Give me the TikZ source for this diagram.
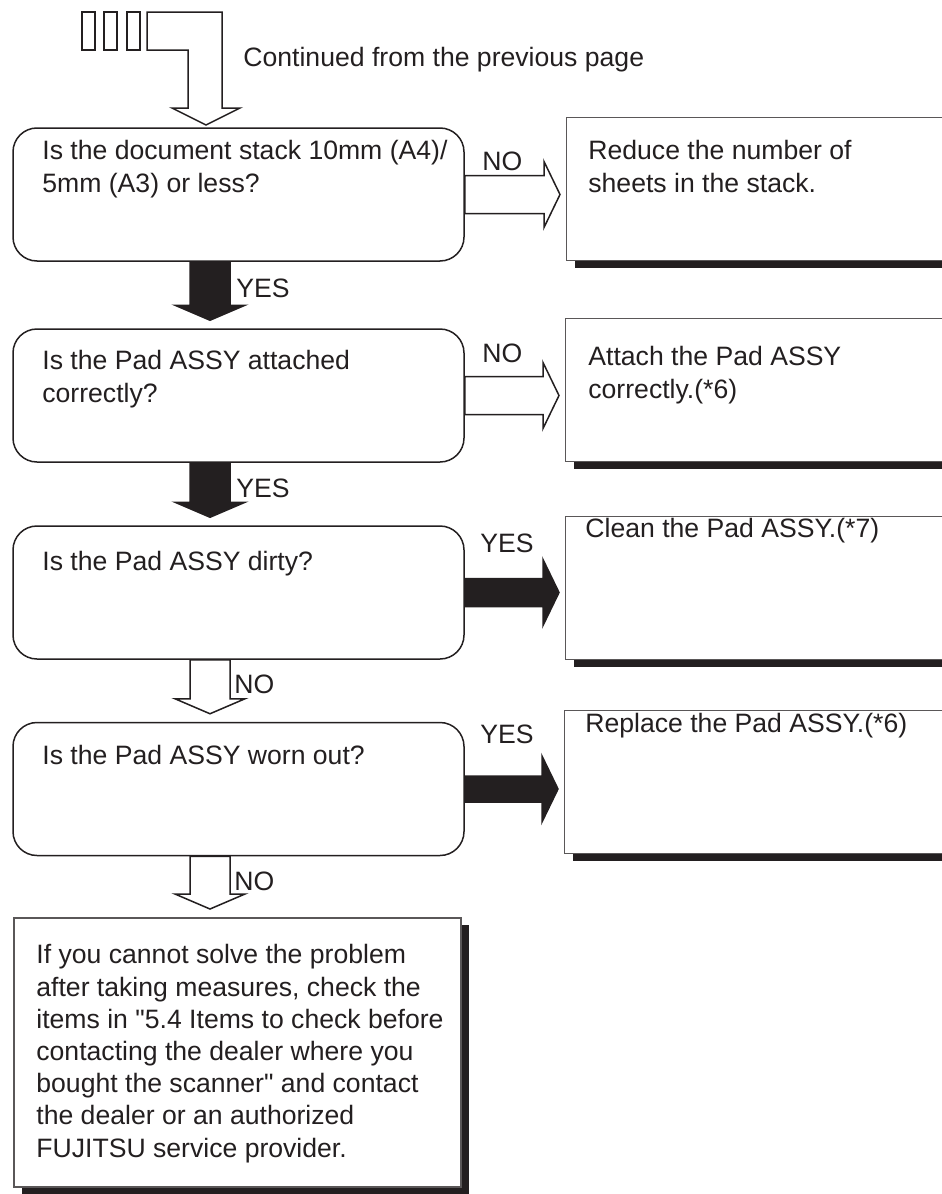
\documentclass[tikz,border=0pt]{standalone}
\usepackage{fontspec}
\setmainfont{Liberation Sans}[Ligatures=TeXOff]
\usetikzlibrary{calc}
\definecolor{ink}{HTML}{231F20}

\newcommand\arrowdown[3]{%
  \draw[#1] ($(#2)+(-20,0)$) -- ($(#2)+(20,0)$) -- ($(#3)+(20,-15)$) -- ($(#3)+(35,-15)$)
    -- (#3) -- ($(#3)+(-35,-15)$) -- ($(#3)+(-20,-15)$) -- cycle;}
\newcommand\arrowright[4]{%
  \draw[#1] ($(#3)+(0,-#2)$) -- ($(#4)+(-16,-#2)$) -- ($(#4)+(-16,-33)$) -- (#4)
    -- ($(#4)+(-16,33)$) -- ($(#4)+(-16,#2)$) -- ($(#3)+(0,#2)$) -- cycle;}

\begin{document}
\begin{tikzpicture}[x=0.5pt,y=-0.5pt,line join=miter,
  ques/.style={draw=ink,line width=0.75pt,rounded corners=12pt,fill=white,
    minimum width=225.5pt,minimum height=66.5pt,inner sep=0pt},
  todo/.style={draw=ink!75,line width=0.5pt,fill=white,anchor=north west,
    minimum width=192pt,minimum height=71.5pt,inner sep=0pt,
    preaction={fill=ink,draw=none,transform canvas={xshift=4pt,yshift=-3.75pt}}},
  txt/.style={anchor=base west,inner sep=0pt,align=left,text=ink,
    font=\fontsize{13.3}{16.1}\selectfont},
  lbl/.style={txt},
  hol/.style={draw=ink,line width=0.75pt,fill=white},
  blk/.style={draw=ink,line width=0.75pt,fill=ink}]
  \useasboundingbox (0,0) rectangle (942,1194);

  % continued marker
  \foreach \x in {82,104,127} {
    \draw[ink,line width=0.75pt] (\x,12) rectangle ++(13,38);
  }
  \draw[hol] (147,12) -- (222,12) -- (222,108) -- (240,108) -- (206,125)
    -- (172,108) -- (188,108) -- (188,50) -- (147,50) -- cycle;
  \node[txt] (cont) at (243,66) {Continued from the previous page};

  % questions (base = last line)
  \node[ques] (q1) at (238.5,194.5) {};
  \node[ques] (q2) at (238.5,395.5) {};
  \node[ques] (q3) at (238.5,592.5) {};
  \node[ques] (q4) at (238.5,789) {};
  \node[draw=ink!75,line width=0.75pt,fill=white,anchor=north west,inner sep=0pt,
    minimum width=223.5pt,minimum height=134.5pt,
    preaction={fill=ink,draw=none,transform canvas={xshift=4pt,yshift=-3.75pt}}]
    (fin) at (13,917) {};
  \node[txt] (tq1) at (42,192) {Is the document stack 10mm (A4)/\\5mm (A3) or less?};
  \node[txt] (tq2) at (42,402) {Is the Pad ASSY attached\\correctly?};
  \node[txt] (tq3) at (42,570) {Is the Pad ASSY dirty?};
  \node[txt] (tq4) at (42,764) {Is the Pad ASSY worn out?};
  \node[txt] (tfin) at (36,1157) {If you cannot solve the problem\\after taking measures, check the\\
    items in "5.4 Items to check before\\contacting the dealer where you\\
    bought the scanner" and contact\\the dealer or an authorized\\FUJITSU service provider.};

  % actions
  \node[todo] (a1) at (566,117) {};
  \node[todo] (a2) at (565,318) {};
  \node[todo] (a3) at (565,516) {};
  \node[todo] (a4) at (564,710) {};
  \node[txt] (ta1) at (588,192) {Reduce the number of\\sheets in the stack.};
  \node[txt] (ta2) at (588,398) {Attach the Pad ASSY\\correctly.(*6)};
  \node[txt] (ta3) at (585,537) {Clean the Pad ASSY.(*7)};
  \node[txt] (ta4) at (585,732) {Replace the Pad ASSY.(*6)};

  % arrows
  \coordinate (spine) at (210,0);
  \foreach \u/\v/\s in {q1/q2/blk,q2/q3/blk,q3/q4/hol,q4/fin/hol} {
    \coordinate (top) at (\u.south -| spine);
    \coordinate (tip) at ($(\v.north -| spine)+(0,-8)$);
    \arrowdown{\s}{top}{tip}
  }
  \foreach \u/\v/\s/\h in {q1/a1/hol/19,q2/a2/hol/19,q3/a3/blk/14,q4/a4/blk/13} {
    \coordinate (tip) at ($(\u.east -| \v.west)+(-6,0)$);
    \arrowright{\s}{\h}{\u.east}{tip}
  }
  \node[lbl] (y1) at (236,297) {YES};
  \node[lbl] (y2) at (236,497) {YES};
  \node[lbl] (n3) at (234,693) {NO};
  \node[lbl] (n4) at (234,890) {NO};
  \node[lbl] (n1) at (482,170) {NO};
  \node[lbl] (n2) at (482,362) {NO};
  \node[lbl] (y3) at (480,552) {YES};
  \node[lbl] (y4) at (480,743) {YES};
\end{tikzpicture}
\end{document}
